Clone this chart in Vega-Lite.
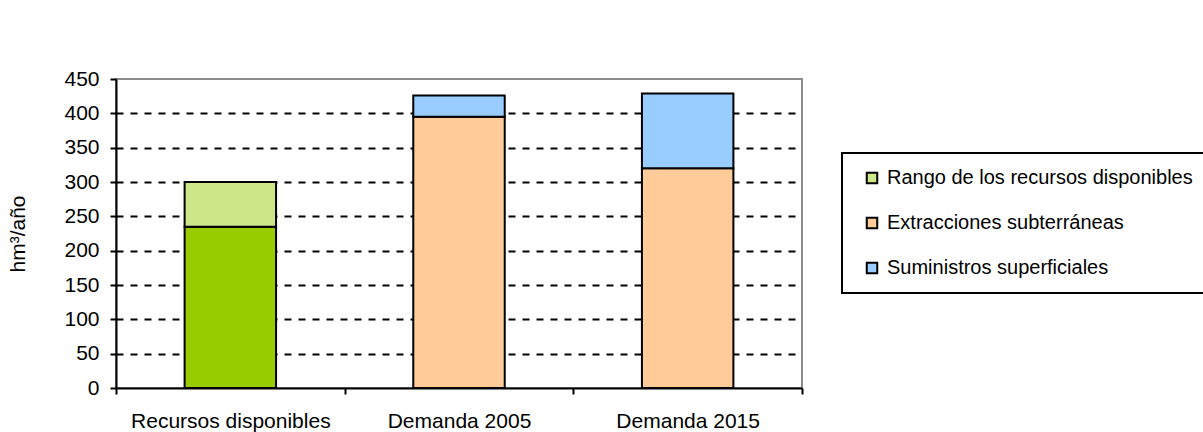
{
  "$schema": "https://vega.github.io/schema/vega-lite/v6.json",
  "width": 686,
  "height": 309,
  "autosize": {"type": "none"},
  "padding": {"left": 116, "top": 79, "right": 401, "bottom": 44},
  "background": "white",
  "config": {
    "font": "Liberation Sans",
    "view": {"stroke": "#8c8c8c", "strokeWidth": 2},
    "legend": {"strokeWidth": 2},
    "axis": {
      "domainColor": "black",
      "domainWidth": 2,
      "tickColor": "black",
      "tickWidth": 2,
      "tickSize": 6,
      "labelColor": "black",
      "labelFont": "Liberation Sans",
      "titleFont": "Liberation Sans",
      "titleColor": "black"
    }
  },
  "data": {
    "values": [
      {"categoria": "Recursos disponibles", "serie": "Recursos disponibles", "valor": 235, "orden": 1},
      {"categoria": "Recursos disponibles", "serie": "Rango de los recursos disponibles", "valor": 65, "orden": 2},
      {"categoria": "Demanda 2005", "serie": "Extracciones subterráneas", "valor": 395, "orden": 1},
      {"categoria": "Demanda 2005", "serie": "Suministros superficiales", "valor": 31, "orden": 2},
      {"categoria": "Demanda 2015", "serie": "Extracciones subterráneas", "valor": 320, "orden": 1},
      {"categoria": "Demanda 2015", "serie": "Suministros superficiales", "valor": 109, "orden": 2}
    ]
  },
  "mark": {"type": "bar", "stroke": "black", "strokeWidth": 2, "width": {"band": 0.4}},
  "encoding": {
    "x": {
      "field": "categoria",
      "type": "nominal",
      "sort": ["Recursos disponibles", "Demanda 2005", "Demanda 2015"],
      "scale": {"paddingInner": 0, "paddingOuter": 0},
      "axis": {
        "title": null,
        "labelAngle": 0,
        "labelFontSize": 21,
        "labelLimit": 400,
        "labelPadding": 16,
        "tickBand": "extent",
        "grid": false
      }
    },
    "y": {
      "field": "valor",
      "type": "quantitative",
      "stack": "zero",
      "scale": {"domain": [0, 450], "nice": false},
      "axis": {
        "title": "hm³/año",
        "titleFontSize": 21,
        "titleFontWeight": "normal",
        "titlePadding": 35,
        "values": [0, 50, 100, 150, 200, 250, 300, 350, 400, 450],
        "labelFontSize": 21,
        "labelPadding": 11,
        "grid": true,
        "gridColor": "black",
        "gridWidth": 2,
        "gridDash": [7, 7],
        "gridOpacity": {"condition": {"test": "datum.value === 0 || datum.value === 450", "value": 0}, "value": 1}
      }
    },
    "color": {
      "field": "serie",
      "type": "nominal",
      "scale": {
        "domain": ["Recursos disponibles", "Rango de los recursos disponibles", "Extracciones subterráneas", "Suministros superficiales"],
        "range": ["#99CC00", "#CCE68A", "#FFCC99", "#99CCFF"]
      },
      "legend": {
        "title": null,
        "values": ["Rango de los recursos disponibles", "Extracciones subterráneas", "Suministros superficiales"],
        "orient": "none",
        "legendX": 726,
        "legendY": 74,
        "strokeColor": "black",
        "fillColor": "white",
        "padding": 15,
        "symbolOffset": 5,
        "symbolType": "square",
        "symbolSize": 110,
        "symbolStrokeColor": "black",
        "symbolStrokeWidth": 2,
        "symbolOpacity": 1,
        "labelFontSize": 20,
        "labelColor": "black",
        "labelOffset": 5,
        "labelLimit": 400,
        "rowPadding": 25
      }
    },
    "order": {"field": "orden", "type": "quantitative"}
  }
}
